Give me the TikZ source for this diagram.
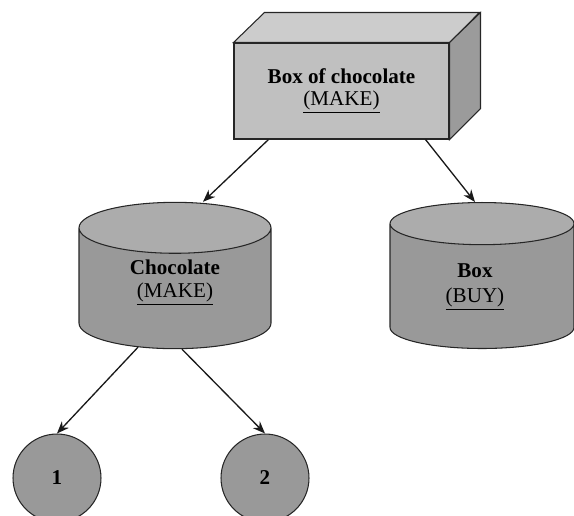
\documentclass[tikz,border=0pt]{standalone}
\usepackage{fontspec}
\setmainfont{Liberation Serif}
\usetikzlibrary{calc}
\usetikzlibrary{arrows.meta}
\usetikzlibrary{shapes.geometric}
\definecolor{frontgray}{RGB}{192,192,192}
\definecolor{topgray}{RGB}{204,204,204}
\definecolor{sidegray}{RGB}{155,155,155}
\definecolor{bodygray}{RGB}{153,153,153}
\definecolor{capgray}{RGB}{172,172,172}
\tikzset{
  crate/.style={draw=black!85, fill=frontgray, line width=0.6pt, minimum width=4.3cm, minimum height=1.92cm, align=center, font=\fontsize{12}{12.5}\selectfont},
  drum/.style={cylinder, shape border rotate=90, anchor=shape center, draw=black!85, line width=0.6pt, cylinder uses custom fill, cylinder body fill=bodygray, cylinder end fill=capgray, minimum width=3.84cm, minimum height=2.92cm, aspect=0.5, align=center, text depth=16.5pt, font=\fontsize{12}{13}\selectfont},
  leaf/.style={circle, draw=black!85, fill=bodygray, line width=0.6pt, minimum size=1.76cm, font=\fontsize{12}{13}\selectfont\bfseries},
  link/.style={->, line width=0.75pt, black!90}
}

\begin{document}
\begin{tikzpicture}[x=0.02cm, y=-0.02cm, >={Stealth[length=7pt,width=5.5pt]}]
\clip (0,0) rectangle (574,515);
% box on top
\node[crate] (box) at (341.5,91) {\textbf{Box of chocolate}\\\underline{(MAKE)}};
\filldraw[draw=black!85, fill=topgray, line width=0.6pt] (box.north west) --++(31,-30) --++(215,0) -- (box.north east) -- cycle;
\filldraw[draw=black!85, fill=sidegray, line width=0.6pt] (box.north east) --++(31,-30) --++(0,96) -- (box.south east) -- cycle;
% parts
\node[drum] (choc) at (175,275.5) {\textbf{Chocolate}\\\underline{(MAKE)}};
\node[drum, minimum width=3.68cm, text depth=8pt] (shell) at (482,275.5) {\textbf{Box}\kern8pt\\[1pt]\underline{(BUY)}\kern8pt};
\node[leaf] (one) at (57,478) {1};
\node[leaf] (two) at (265,478) {2};
% arrows
\draw[link] ($(box.south)+(-73,0)$) -- ($(choc.north)+(28,0)$);
\draw[link] ($(box.south)+(84,0)$) -- ($(shell.north)+(-7,0)$);
\draw[link] ($(choc.south)+(-37,-2)$) -- (one.north);
\draw[link] ($(choc.south)+(7,0)$) -- (two.north);
\end{tikzpicture}
\end{document}
